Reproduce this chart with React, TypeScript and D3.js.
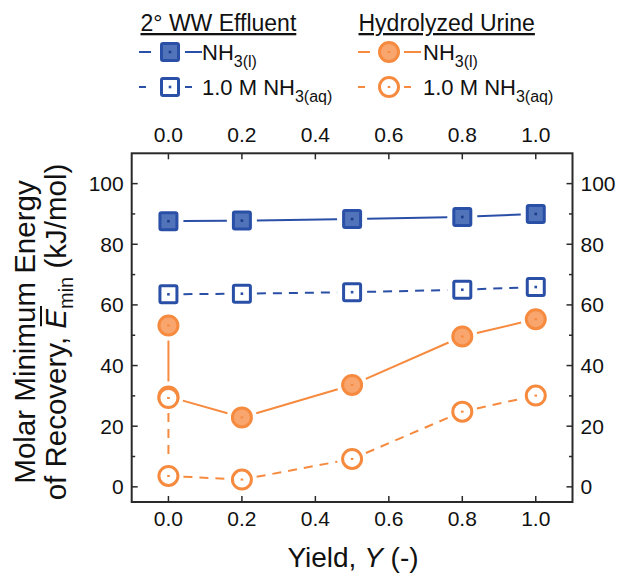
import React, { useLayoutEffect, useRef, useState } from 'react';
import * as d3 from 'd3';

const yieldTicks = [0, 0.2, 0.4, 0.6, 0.8, 1.0];
const energyTicks = [0, 20, 40, 60, 80, 100];
const energyMinorTicks = [10, 30, 50, 70, 90];

const wwYield = [0, 0.2, 0.5, 0.8, 1.0];
const wwLiquid = [87.6, 87.8, 88.3, 89.0, 90.0];
const wwAqueous = [63.5, 63.7, 64.2, 65.0, 65.9];

const urineYield = [0, 0, 0.2, 0.5, 0.8, 1.0];
const urineLiquid = [53.2, 29.8, 22.9, 33.6, 49.6, 55.3];
const urineAqueous = [29.3, 3.6, 2.4, 9.2, 24.8, 30.1];

const BLUE = '#2a4fa6';
const BLUE_FILL = '#5073b9';
const ORANGE = '#f68a3e';
const ORANGE_FILL = '#f8a56e';
const AXIS = '#2a2a2a';
const FONT = '"Liberation Sans", Arial, Helvetica, sans-serif';

const W = 619;
const H = 573;

const x = d3.scaleLinear().domain([-0.1, 1.1]).range([131.7, 572.5]);
const y = d3.scaleLinear().domain([-5, 110]).range([502, 153.3]);

const TRIM = 15;

function segments(xs: number[], ys: number[]) {
  const out: { x1: number; y1: number; x2: number; y2: number }[] = [];
  for (let i = 0; i < xs.length - 1; i++) {
    const ax = x(xs[i]), ay = y(ys[i]), bx = x(xs[i + 1]), by = y(ys[i + 1]);
    const dx = bx - ax, dy = by - ay;
    const len = Math.hypot(dx, dy);
    if (len <= 2 * TRIM) continue;
    const ux = dx / len, uy = dy / len;
    out.push({ x1: ax + ux * TRIM, y1: ay + uy * TRIM, x2: bx - ux * TRIM, y2: by - uy * TRIM });
  }
  return out;
}

function Square({ cx, cy, filled }: { cx: number; cy: number; filled: boolean }) {
  const s = 17;
  return (
    <g>
      <rect x={cx - s / 2} y={cy - s / 2} width={s} height={s} rx={1.5}
        fill={filled ? BLUE_FILL : '#fff'} stroke={BLUE} strokeWidth={3} />
      <rect x={cx - 1.3} y={cy - 1.3} width={2.6} height={2.6} fill={filled ? '#1d3d8c' : BLUE} />
    </g>
  );
}

function Circle({ cx, cy, filled }: { cx: number; cy: number; filled: boolean }) {
  return (
    <g>
      <circle cx={cx} cy={cy} r={9.5} fill={filled ? ORANGE_FILL : '#fff'} stroke={ORANGE} strokeWidth={3} />
      <rect x={cx - 1.3} y={cy - 1} width={2.6} height={2} fill={ORANGE} />
    </g>
  );
}

function Series({ xs, ys, color, dashed, kind, filled }: {
  xs: number[]; ys: number[]; color: string; dashed: boolean; kind: 'sq' | 'ci'; filled: boolean;
}) {
  return (
    <g>
      {segments(xs, ys).map((s, i) => (
        <line key={i} {...s} stroke={color} strokeWidth={2} strokeDasharray={dashed ? '9,7' : undefined} />
      ))}
      {xs.map((v, i) =>
        kind === 'sq'
          ? <Square key={i} cx={x(v)} cy={y(ys[i])} filled={filled} />
          : <Circle key={i} cx={x(v)} cy={y(ys[i])} filled={filled} />
      )}
    </g>
  );
}

function LegendRow({ x0, yc, kind, filled, dashed, color, label }: {
  x0: number; yc: number; kind: 'sq' | 'ci'; filled: boolean; dashed: boolean; color: string; label: 'l' | 'aq';
}) {
  const mx = x0 + 31;
  const left = dashed ? [x0, x0 + 7] : [x0, x0 + 12];
  const right = dashed ? [mx + 15, mx + 22] : [mx + 15, mx + 32];
  return (
    <g>
      <line x1={left[0]} x2={left[1]} y1={yc} y2={yc} stroke={color} strokeWidth={2} />
      <line x1={right[0]} x2={right[1]} y1={yc} y2={yc} stroke={color} strokeWidth={2} />
      {kind === 'sq' ? <Square cx={mx} cy={yc} filled={filled} /> : <Circle cx={mx} cy={yc} filled={filled} />}
      <text x={mx + (kind === 'sq' ? 32 : 34)} y={yc + 8} fontSize={22} fontFamily={FONT} fill="#111">
        {label === 'aq' ? '1.0 M NH' : 'NH'}
        <tspan dy={7} fontSize={16}>{label === 'aq' ? '3(aq)' : '3(l)'}</tspan>
      </text>
    </g>
  );
}

const TITLE_LINE2_PREFIX = 'of Recovery, ';

export default function App() {
  const x0 = x.range()[0], x1 = x.range()[1];
  const y0 = y.range()[0], y1 = y.range()[1];
  const major = 6, minor = 3.5;
  const line2Ref = useRef<SVGTextElement>(null);
  const [bar, setBar] = useState<{ a: number; b: number } | null>(null);

  useLayoutEffect(() => {
    const el = line2Ref.current;
    if (!el) return;
    try {
      const ext = el.getExtentOfChar(TITLE_LINE2_PREFIX.length);
      setBar({ a: ext.x + 2.5, b: ext.x + ext.width + 3 });
    } catch (e) {
      setBar(null);
    }
  }, []);

  return (
    <svg width={W} height={H} style={{ position: 'absolute', left: 0, top: 0, background: '#fff' }}>
      {/* legend */}
      <text x={140.5} y={31} fontSize={23} fontFamily={FONT} fill="#111" style={{ textDecoration: 'underline' }}>2° WW Effluent</text>
      <text x={358.5} y={31} fontSize={23} fontFamily={FONT} fill="#111" style={{ textDecoration: 'underline' }}>Hydrolyzed Urine</text>
      <LegendRow x0={139} yc={52} kind="sq" filled dashed={false} color={BLUE} label="l" />
      <LegendRow x0={139} yc={87} kind="sq" filled={false} dashed color={BLUE} label="aq" />
      <LegendRow x0={358} yc={52} kind="ci" filled dashed={false} color={ORANGE} label="l" />
      <LegendRow x0={358} yc={87} kind="ci" filled={false} dashed color={ORANGE} label="aq" />

      {/* frame */}
      <rect x={x0} y={y1} width={x1 - x0} height={y0 - y1} fill="none" stroke={AXIS} strokeWidth={2} />

      {/* x ticks */}
      {yieldTicks.map((t) => (
        <g key={'xt' + t}>
          <line x1={x(t)} x2={x(t)} y1={y0} y2={y0 - major} stroke={AXIS} strokeWidth={1.5} />
          <line x1={x(t)} x2={x(t)} y1={y1} y2={y1 + major} stroke={AXIS} strokeWidth={1.5} />
          <text x={x(t)} y={y0 + 24} textAnchor="middle" fontSize={21} fontFamily={FONT} fill="#111">{t.toFixed(1)}</text>
          <text x={x(t)} y={y1 - 11} textAnchor="middle" fontSize={21} fontFamily={FONT} fill="#111">{t.toFixed(1)}</text>
        </g>
      ))}
      {/* y ticks */}
      {energyTicks.map((t) => (
        <g key={'yt' + t}>
          <line x1={x0} x2={x0 + major} y1={y(t)} y2={y(t)} stroke={AXIS} strokeWidth={1.5} />
          <line x1={x1} x2={x1 - major} y1={y(t)} y2={y(t)} stroke={AXIS} strokeWidth={1.5} />
          <text x={x0 - 8} y={y(t) + 7.5} textAnchor="end" fontSize={21} fontFamily={FONT} fill="#111">{t}</text>
          <text x={x1 + 8} y={y(t) + 7.5} textAnchor="start" fontSize={21} fontFamily={FONT} fill="#111">{t}</text>
        </g>
      ))}
      {energyMinorTicks.map((t) => (
        <g key={'ym' + t}>
          <line x1={x0} x2={x0 + minor} y1={y(t)} y2={y(t)} stroke={AXIS} strokeWidth={1.5} />
          <line x1={x1} x2={x1 - minor} y1={y(t)} y2={y(t)} stroke={AXIS} strokeWidth={1.5} />
        </g>
      ))}

      {/* data */}
      <Series xs={wwYield} ys={wwLiquid} color={BLUE} dashed={false} kind="sq" filled />
      <Series xs={wwYield} ys={wwAqueous} color={BLUE} dashed kind="sq" filled={false} />
      <Series xs={urineYield} ys={urineLiquid} color={ORANGE} dashed={false} kind="ci" filled />
      <Series xs={urineYield} ys={urineAqueous} color={ORANGE} dashed kind="ci" filled={false} />

      {/* axis titles */}
      <text x={353} y={567} textAnchor="middle" fontSize={28} fontFamily={FONT} fill="#111">
        Yield, <tspan fontStyle="italic">Y</tspan> (-)
      </text>
      <text transform={`translate(35, 332) rotate(-90)`} textAnchor="middle" fontSize={29.5} fontFamily={FONT} fill="#111">
        Molar Minimum Energy
      </text>
      <g transform={`translate(66, 332) rotate(-90)`}>
        <text ref={line2Ref} x={0} y={0} textAnchor="middle" fontSize={29.5} fontFamily={FONT} fill="#111">
          {TITLE_LINE2_PREFIX}<tspan fontStyle="italic">E</tspan>
          <tspan dy={7} fontSize={20}>min</tspan>
          <tspan dy={-7}> (kJ/mol)</tspan>
        </text>
        {bar && <line x1={bar.a} x2={bar.b} y1={-25} y2={-25} stroke="#111" strokeWidth={2} />}
      </g>
    </svg>
  );
}
